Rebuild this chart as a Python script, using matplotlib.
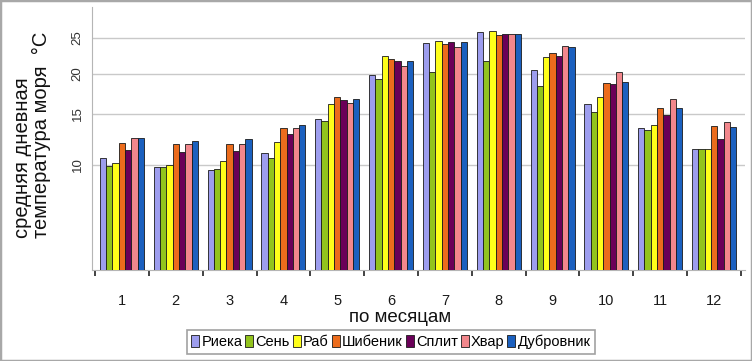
import numpy as np
import matplotlib
matplotlib.use("Agg")
import matplotlib.pyplot as plt
from matplotlib.patches import Rectangle

months = ["1", "2", "3", "4", "5", "6", "7", "8", "9", "10", "11", "12"]
series = ["Риека", "Сень", "Раб", "Шибеник", "Сплит", "Хвар", "Дубровник"]
rijeka    = [10.7, 9.85, 9.5, 11.2, 14.5, 19.8, 24.3, 25.8, 20.5, 16.3, 13.6, 11.6]
senj      = [9.9, 9.85, 9.6, 10.7, 14.3, 19.3, 20.2, 21.7, 18.5, 15.3, 13.4, 11.6]
rab       = [10.2, 10.0, 10.4, 12.3, 16.2, 22.4, 24.6, 26.0, 22.3, 17.1, 13.9, 11.6]
sibenik   = [12.2, 12.1, 12.1, 13.6, 17.1, 22.1, 24.2, 25.4, 22.9, 18.8, 15.8, 13.8]
split     = [11.5, 11.3, 11.4, 13.0, 16.7, 21.7, 24.4, 25.5, 22.5, 18.7, 14.9, 12.6]
hvar      = [12.7, 12.1, 12.1, 13.6, 16.4, 21.0, 23.7, 25.5, 23.9, 20.2, 16.9, 14.2]
dubrovnik = [12.7, 12.4, 12.6, 13.9, 16.9, 21.7, 24.4, 25.5, 23.7, 19.0, 15.8, 13.7]
values = [rijeka, senj, rab, sibenik, split, hvar, dubrovnik]
colors = ["#9d9dee", "#92c31d", "#ffff1a", "#ec6c1c", "#6a0058", "#f2878c", "#1b60bf"]
yticks = [10, 15, 20, 25]

# axis scale as drawn in the reference (non-uniform spacing of gridlines)
_sv = [0, 10, 15, 20, 25, 30]
_sp = [0, 105, 156, 196.5, 232.3, 268.1]
def fwd(v):
    return np.interp(v, _sv, _sp)
def inv(p):
    return np.interp(p, _sp, _sv)

plt.rcParams['font.family'] = ['Liberation Sans', 'DejaVu Sans']

W, H = 752, 361
fig = plt.figure(figsize=(W/100, H/100), dpi=100)
ax = fig.add_axes([92/W, 1-270/H, (745-92)/W, (270-7)/H])
ax.set_yscale('function', functions=(fwd, inv))

n = len(series)
x = np.arange(len(months))
gw = 0.82
bw = gw / n
for i, (name, vals, c) in enumerate(zip(series, values, colors)):
    ax.bar(x - gw/2 + bw*(i+0.5), vals, width=bw, color=c,
           edgecolor="#1a1a1a", linewidth=0.6, label=name, zorder=3)

ax.set_xlim(-0.5 - 3/53.8, 11.5 + 4/53.8)
ax.set_ylim(0, 29.3)
ax.set_yticks(yticks)
ax.set_yticklabels([str(t) for t in yticks], rotation=90, va='center',
                   fontsize=9.5, color="#333333")
ax.yaxis.grid(True, color="#c9c9c9", linewidth=1, zorder=0)
ax.tick_params(axis='y', length=0, pad=6)

ax.set_xticks(x)
ax.set_xticklabels(months, fontsize=10.5, color="#1a1a1a")
ax.set_xticks(np.arange(-0.5, 12, 1), minor=True)
ax.tick_params(axis='x', which='major', length=0, pad=17)
ax.tick_params(axis='x', which='minor', length=4, width=1.2, color="#222222")

for s in ['top', 'right']:
    ax.spines[s].set_visible(False)
ax.spines['left'].set_color("#b5b5b5")
ax.spines['bottom'].set_color("#b5b5b5")

fig.text(400/W, 1-318/H, "по месяцам", ha='center', va='center', fontsize=13.5,
         color="#111111")
fig.text(32/W, 1-238/H, "средняя дневная\nтемпература моря  °C", rotation=90,
         ha='center', va='bottom', multialignment='left', fontsize=14.5,
         linespacing=1.0, color="#111111")

leg = fig.legend(loc='center', bbox_to_anchor=(391/W, 1-342/H), ncol=7,
                 fontsize=10.5, handlelength=0.55, handleheight=0.9,
                 handletextpad=0.15, columnspacing=0.2, borderpad=0.3,
                 fancybox=False, frameon=True)
leg.get_frame().set_edgecolor("#8a8a8a")
leg.get_frame().set_linewidth(1.2)

fig.patches.append(Rectangle((0, 0), 1, 1, transform=fig.transFigure,
                             fill=False, edgecolor="#a8a8a8", linewidth=2.5))

fig.savefig("out.png", dpi=100)
